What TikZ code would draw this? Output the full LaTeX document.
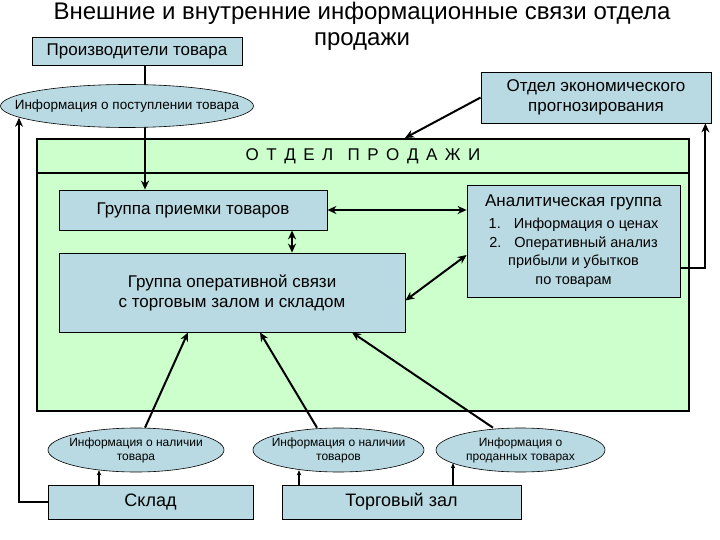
\documentclass[tikz,border=0pt]{standalone}
\usepackage{fontspec}
\setmainfont{Liberation Sans}
\usepackage{xcolor}
\definecolor{boxblue}{HTML}{B9DAE2}
\definecolor{deptgreen}{HTML}{CCFFCC}
\usetikzlibrary{arrows.meta,shapes.geometric}

\begin{document}
\begin{tikzpicture}[
  x=1pt, y=-1pt,
  box/.style={draw=black, line width=0.8pt, fill=boxblue, align=center, inner sep=2pt},
  oval/.style={ellipse, draw=black, line width=0.6pt, fill=boxblue, align=center, inner ysep=0pt, minimum height=44pt},
  dept/.style={draw=black, line width=2pt, fill=deptgreen, inner sep=0pt, minimum width=652pt},
  arr/.style={-{Stealth[length=9pt,width=8pt]}, line width=2pt},
  darr/.style={{Stealth[length=9pt,width=8pt]}-{Stealth[length=9pt,width=8pt]}, line width=2pt},
  smallarr/.style={-{Stealth[length=5pt,width=4.5pt]}, line width=1.2pt},
  bigtxt/.style={font=\fontsize{17}{20}\selectfont},
  midtxt/.style={font=\fontsize{14.5}{18.5}\selectfont},
  smalltxt/.style={font=\fontsize{12}{14}\selectfont},
]
  \useasboundingbox (0,0) rectangle (720,540);
  % title
  \node[align=center, font=\fontsize{24}{26}\selectfont] (title) at (362,26)
    {Внешние и внутренние информационные связи отдела\\продажи};
  % sales department
  \node[dept, minimum height=272pt] (panel) at (363,275) {};
  \node[dept, minimum height=34pt, bigtxt] (hdr) at (363,156) {О\,\ Т\,\ Д\,\ Е\,\ Л \ \ П\,\ Р\,\ О\,\ Д\,\ А\,\ Ж\,\ И};
  \node[box, bigtxt, minimum width=268pt, minimum height=40pt] (priem) at (193,210) {Группа приемки товаров};
  \node[box, minimum width=213pt, minimum height=112pt, midtxt] (anal) at (573.5,241)
    {{\fontsize{17}{20}\selectfont Аналитическая группа}\\[4pt]
     1.\hspace{0.9em}Информация о ценах\\2.\hspace{0.9em}Оперативный анализ\\прибыли и убытков\\по товарам};
  \node[box, bigtxt, minimum width=346pt, minimum height=79pt] (oper) at (232,292.5)
    {Группа оперативной связи\\с торговым залом и складом};
  % outside
  \node[box, bigtxt, minimum width=210pt, minimum height=28pt] (prod) at (137,51) {Производители товара};
  \node[box, bigtxt, minimum width=230pt, minimum height=51pt] (econ) at (596,97.5) {Отдел экономического\\прогнозирования};
  \node[oval, smalltxt, minimum width=176pt, inner xsep=-25pt] (inf1) at (136,450) {Информация о наличии\\товара};
  \node[oval, smalltxt, minimum width=171pt, inner xsep=-25pt] (inf2) at (338.5,450) {Информация о наличии\\товаров};
  \node[oval, smalltxt, minimum width=169pt, inner xsep=-25pt] (inf3) at (520.5,450) {Информация о\\проданных товарах};
  \node[box, font=\fontsize{18}{20}\selectfont, minimum width=205pt, minimum height=34pt] (sklad) at (150.5,502) {Склад};
  \node[box, font=\fontsize{18}{20}\selectfont, minimum width=239pt, minimum height=34pt] (torg) at (401.5,502) {Торговый зал};
  % links
  \draw[arr] ([xshift=8pt]prod.south) -- ([xshift=8pt]prod.south |- priem.north);
  \node[oval, font=\fontsize{13.5}{16}\selectfont, minimum width=253pt, minimum height=43pt, inner xsep=-40pt] (inpost) at (127,106)
    {Информация о поступлении товара};
  \draw[arr] (econ.west) -- ([xshift=42pt]hdr.north);
  \draw[arr] ([yshift=-27pt]anal.east) -| ([xshift=-6pt]econ.south east);
  \draw[arr] (sklad.west) -| ([xshift=-108pt,yshift=10pt]inpost.south);
  \draw[darr] (priem.east) -- (priem.east -| anal.west);
  \draw[darr] ([xshift=99pt]priem.south) -- ([xshift=99pt]priem.south |- oper.north);
  \draw[darr] ([yshift=-14pt]anal.west) -- ([yshift=-8pt]oper.east);
  \draw[arr] ([xshift=9pt]inf1.north) -- ([xshift=-44pt]oper.south);
  \draw[arr] ([xshift=-21.5pt]inf2.north) -- ([xshift=28pt]oper.south);
  \draw[arr] ([xshift=-27.5pt]inf3.north) -- ([xshift=120pt]oper.south);
  \draw[smallarr] ([xshift=-51.5pt]sklad.north) -- ([xshift=-51.5pt,yshift=2pt]sklad.north |- inf1.south);
  \draw[smallarr] ([xshift=-102.5pt]torg.north) -- ([xshift=-102.5pt,yshift=2pt]torg.north |- inf2.south);
  \draw[smallarr] ([xshift=51.5pt]torg.north) -- ([xshift=51.5pt,yshift=9pt]torg.north |- inf3.south);
\end{tikzpicture}
\end{document}
